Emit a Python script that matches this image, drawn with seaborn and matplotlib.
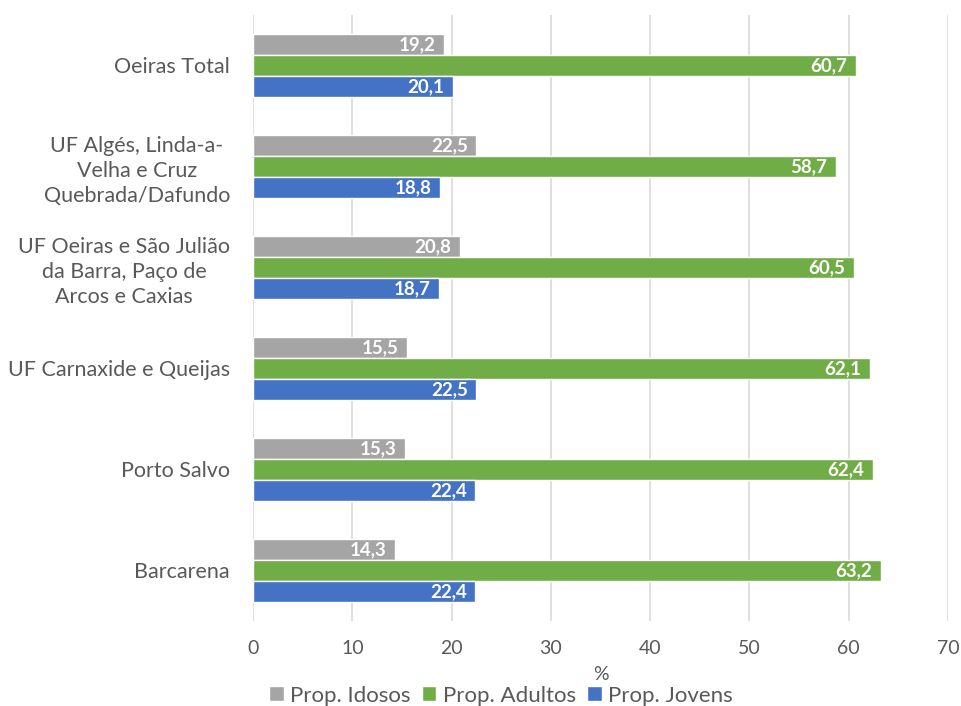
import matplotlib
matplotlib.use("Agg")
import matplotlib.pyplot as plt
import seaborn as sns
import pandas as pd

# data
freguesias = ["Oeiras Total",
              "UF Algés, Linda-a-\nVelha e Cruz\nQuebrada/Dafundo",
              "UF Oeiras e São Julião\nda Barra, Paço de\nArcos e Caxias",
              "UF Carnaxide e Queijas",
              "Porto Salvo",
              "Barcarena"]
idosos = [19.2, 22.5, 20.8, 15.5, 15.3, 14.3]
adultos = [60.7, 58.7, 60.5, 62.1, 62.4, 63.2]
jovens = [20.1, 18.8, 18.7, 22.5, 22.4, 22.4]
series = ["Prop. Idosos", "Prop. Adultos", "Prop. Jovens"]
cores = ["#A5A5A5", "#70AD47", "#4472C4"]

rows = []
for i, f in enumerate(freguesias):
    rows.append((f, series[0], idosos[i]))
    rows.append((f, series[1], adultos[i]))
    rows.append((f, series[2], jovens[i]))
df = pd.DataFrame(rows, columns=["freguesia", "serie", "valor"])

sns.set_style("white")
plt.rcParams["font.family"] = ["Lato", "DejaVu Sans"]

fig = plt.figure(figsize=(9.61, 7.06), dpi=100)
ax = fig.add_axes([0.2633, 0.1204, 0.7232, 0.8584])

sns.barplot(data=df, y="freguesia", x="valor", hue="serie", order=freguesias,
            hue_order=series, palette=cores, orient="h", width=0.63,
            saturation=1, ax=ax, legend=True)

for cont in ax.containers:
    for bar in cont:
        w = bar.get_width()
        ax.annotate(f"{w:.1f}".replace(".", ","),
                    xy=(w, bar.get_y() + bar.get_height() / 2),
                    xytext=(-6, 0), textcoords="offset points",
                    ha="right", va="center", color="white",
                    fontsize=13.5, fontweight="bold")

ax.set_xlim(0, 70)
ax.set_ylim(5.5, -0.5)
ax.set_xticks(range(0, 71, 10))
ax.xaxis.grid(True, color="#D9D9D9", linewidth=1.2)
ax.set_axisbelow(True)
for s in ax.spines.values():
    s.set_visible(False)
ax.tick_params(axis="x", length=0, colors="#595959", labelsize=14, pad=14)
ax.tick_params(axis="y", length=0, colors="#595959", labelsize=15.5, pad=16.5)
for lab in ax.get_yticklabels():
    lab.set_multialignment("center")
    lab.set_linespacing(1.3)
ax.set_ylabel("")
ax.set_xlabel("%", fontsize=14, color="#595959", labelpad=6)

ax.legend(loc="center", bbox_to_anchor=(0.357, -0.123), ncol=3,
          frameon=False, fontsize=16, handlelength=0.65, handleheight=0.65,
          handletextpad=0.3, columnspacing=0.5, labelcolor="#595959",
          borderaxespad=0, borderpad=0)

fig.savefig("out.png", dpi=100)
